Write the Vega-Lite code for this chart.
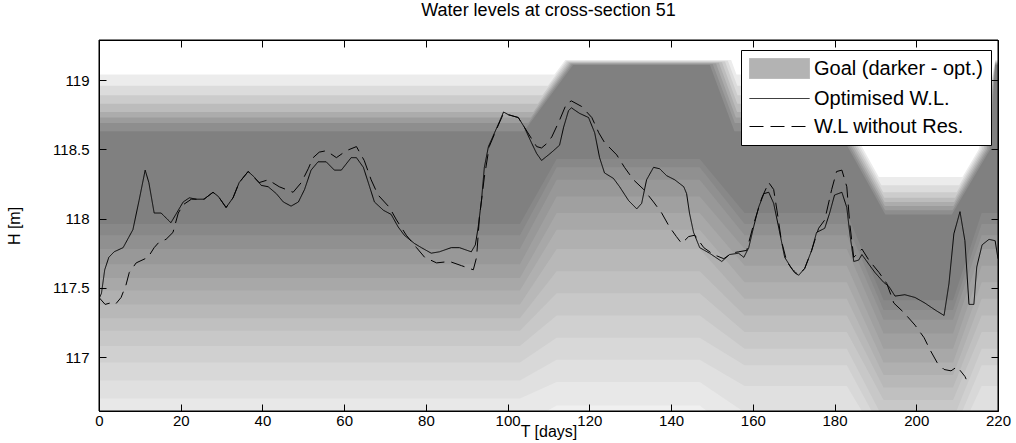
{
"$schema": "https://vega.github.io/schema/vega-lite/v6.json",
"width": 899, "height": 371,
"autosize": {"type": "none"},
"padding": {"left": 99, "top": 40, "right": 18, "bottom": 32},
"background": "white",
"title": {"text": "Water levels at cross-section 51", "fontSize": 18, "font": "Liberation Sans", "fontWeight": "normal", "color": "black", "offset": 20, "anchor": "middle"},
"datasets": {
"goal": [
{"side":"up","band":"u8","t":0,"h":118.63},{"side":"up","band":"u8","t":104,"h":118.63},{"side":"up","band":"u8","t":116,"h":119.11},{"side":"up","band":"u8","t":149.5,"h":119.11},{"side":"up","band":"u8","t":155.5,"h":118.63},{"side":"up","band":"u8","t":181.11,"h":118.63},{"side":"up","band":"u8","t":192.43,"h":118.03},{"side":"up","band":"u8","t":208.7,"h":118.03},{"side":"up","band":"u8","t":218.1,"h":118.5},{"side":"up","band":"u8","t":219.3,"h":119.11},{"side":"up","band":"u8","t":220,"h":119.11},
{"side":"up","band":"u7","t":0,"h":118.69},{"side":"up","band":"u7","t":105.1,"h":118.69},{"side":"up","band":"u7","t":115.7,"h":119.115},{"side":"up","band":"u7","t":150.2,"h":119.115},{"side":"up","band":"u7","t":155.6,"h":118.69},{"side":"up","band":"u7","t":180.48,"h":118.69},{"side":"up","band":"u7","t":192.36,"h":118.06},{"side":"up","band":"u7","t":208.9,"h":118.06},{"side":"up","band":"u7","t":217.7,"h":118.5},{"side":"up","band":"u7","t":219.3,"h":119.115},{"side":"up","band":"u7","t":220,"h":119.115},
{"side":"up","band":"u6","t":0,"h":118.73},{"side":"up","band":"u6","t":105.7,"h":118.73},{"side":"up","band":"u6","t":115.45,"h":119.12},{"side":"up","band":"u6","t":151,"h":119.12},{"side":"up","band":"u6","t":155.85,"h":118.73},{"side":"up","band":"u6","t":180.22,"h":118.73},{"side":"up","band":"u6","t":192.3,"h":118.09},{"side":"up","band":"u6","t":209.1,"h":118.09},{"side":"up","band":"u6","t":217.3,"h":118.5},{"side":"up","band":"u6","t":219.3,"h":119.12},{"side":"up","band":"u6","t":220,"h":119.12},
{"side":"up","band":"u5","t":0,"h":118.77},{"side":"up","band":"u5","t":106.3,"h":118.77},{"side":"up","band":"u5","t":115.2,"h":119.125},{"side":"up","band":"u5","t":151.7,"h":119.125},{"side":"up","band":"u5","t":156.15,"h":118.77},{"side":"up","band":"u5","t":179.97,"h":118.77},{"side":"up","band":"u5","t":192.23,"h":118.12},{"side":"up","band":"u5","t":209.3,"h":118.12},{"side":"up","band":"u5","t":216.9,"h":118.5},{"side":"up","band":"u5","t":219.3,"h":119.125},{"side":"up","band":"u5","t":220,"h":119.125},
{"side":"up","band":"u4","t":0,"h":118.83},{"side":"up","band":"u4","t":107.4,"h":118.83},{"side":"up","band":"u4","t":114.9,"h":119.13},{"side":"up","band":"u4","t":152.45,"h":119.13},{"side":"up","band":"u4","t":156.2,"h":118.83},{"side":"up","band":"u4","t":179.33,"h":118.83},{"side":"up","band":"u4","t":192.17,"h":118.15},{"side":"up","band":"u4","t":209.5,"h":118.15},{"side":"up","band":"u4","t":216.5,"h":118.5},{"side":"up","band":"u4","t":219.3,"h":119.13},{"side":"up","band":"u4","t":220,"h":119.13},
{"side":"up","band":"u3","t":0,"h":118.89},{"side":"up","band":"u3","t":108.5,"h":118.89},{"side":"up","band":"u3","t":114.6,"h":119.135},{"side":"up","band":"u3","t":153.2,"h":119.135},{"side":"up","band":"u3","t":156.25,"h":118.89},{"side":"up","band":"u3","t":178.7,"h":118.89},{"side":"up","band":"u3","t":191.91,"h":118.19},{"side":"up","band":"u3","t":209.9,"h":118.19},{"side":"up","band":"u3","t":216.1,"h":118.5},{"side":"up","band":"u3","t":219.3,"h":119.135},{"side":"up","band":"u3","t":220,"h":119.135},
{"side":"up","band":"u2","t":0,"h":118.96},{"side":"up","band":"u2","t":109.85,"h":118.96},{"side":"up","band":"u2","t":114.35,"h":119.14},{"side":"up","band":"u2","t":153.9,"h":119.14},{"side":"up","band":"u2","t":156.2,"h":118.96},{"side":"up","band":"u2","t":177.88,"h":118.96},{"side":"up","band":"u2","t":191.47,"h":118.24},{"side":"up","band":"u2","t":210.5,"h":118.24},{"side":"up","band":"u2","t":215.7,"h":118.5},{"side":"up","band":"u2","t":219.3,"h":119.14},{"side":"up","band":"u2","t":220,"h":119.14},
{"side":"up","band":"u1","t":0,"h":119.04},{"side":"up","band":"u1","t":111.45,"h":119.04},{"side":"up","band":"u1","t":114.1,"h":119.145},{"side":"up","band":"u1","t":154.7,"h":119.145},{"side":"up","band":"u1","t":156,"h":119.04},{"side":"up","band":"u1","t":176.87,"h":119.04},{"side":"up","band":"u1","t":190.83,"h":118.3},{"side":"up","band":"u1","t":211.3,"h":118.3},{"side":"up","band":"u1","t":215.3,"h":118.5},{"side":"up","band":"u1","t":219.3,"h":119.145},{"side":"up","band":"u1","t":220,"h":119.145},
{"side":"lo","band":"l1","t":0,"h":117.96},{"side":"lo","band":"l1","t":103,"h":117.96},{"side":"lo","band":"l1","t":112,"h":118.43},{"side":"lo","band":"l1","t":147,"h":118.43},{"side":"lo","band":"l1","t":158,"h":118.04},{"side":"lo","band":"l1","t":183,"h":118.04},{"side":"lo","band":"l1","t":192,"h":117.41},{"side":"lo","band":"l1","t":209,"h":117.41},{"side":"lo","band":"l1","t":216,"h":118.04},{"side":"lo","band":"l1","t":220,"h":118.04},
{"side":"lo","band":"l2","t":0,"h":117.88},{"side":"lo","band":"l2","t":103,"h":117.88},{"side":"lo","band":"l2","t":112,"h":118.37},{"side":"lo","band":"l2","t":147,"h":118.37},{"side":"lo","band":"l2","t":158,"h":117.96},{"side":"lo","band":"l2","t":183,"h":117.96},{"side":"lo","band":"l2","t":192,"h":117.34},{"side":"lo","band":"l2","t":209,"h":117.34},{"side":"lo","band":"l2","t":216,"h":117.96},{"side":"lo","band":"l2","t":220,"h":117.96},
{"side":"lo","band":"l3","t":0,"h":117.78},{"side":"lo","band":"l3","t":103,"h":117.78},{"side":"lo","band":"l3","t":112,"h":118.28},{"side":"lo","band":"l3","t":147,"h":118.28},{"side":"lo","band":"l3","t":158,"h":117.88},{"side":"lo","band":"l3","t":183,"h":117.88},{"side":"lo","band":"l3","t":192,"h":117.27},{"side":"lo","band":"l3","t":209,"h":117.27},{"side":"lo","band":"l3","t":216,"h":117.88},{"side":"lo","band":"l3","t":220,"h":117.88},
{"side":"lo","band":"l4","t":0,"h":117.67},{"side":"lo","band":"l4","t":103,"h":117.67},{"side":"lo","band":"l4","t":112,"h":118.16},{"side":"lo","band":"l4","t":147,"h":118.16},{"side":"lo","band":"l4","t":158,"h":117.78},{"side":"lo","band":"l4","t":183,"h":117.78},{"side":"lo","band":"l4","t":192,"h":117.17},{"side":"lo","band":"l4","t":209,"h":117.17},{"side":"lo","band":"l4","t":216,"h":117.78},{"side":"lo","band":"l4","t":220,"h":117.78},
{"side":"lo","band":"l5","t":0,"h":117.57},{"side":"lo","band":"l5","t":103,"h":117.57},{"side":"lo","band":"l5","t":112,"h":118.04},{"side":"lo","band":"l5","t":147,"h":118.04},{"side":"lo","band":"l5","t":158,"h":117.66},{"side":"lo","band":"l5","t":183,"h":117.66},{"side":"lo","band":"l5","t":192,"h":117.06},{"side":"lo","band":"l5","t":209,"h":117.06},{"side":"lo","band":"l5","t":216,"h":117.66},{"side":"lo","band":"l5","t":220,"h":117.66},
{"side":"lo","band":"l6","t":0,"h":117.48},{"side":"lo","band":"l6","t":103,"h":117.48},{"side":"lo","band":"l6","t":112,"h":117.92},{"side":"lo","band":"l6","t":147,"h":117.92},{"side":"lo","band":"l6","t":158,"h":117.54},{"side":"lo","band":"l6","t":183,"h":117.54},{"side":"lo","band":"l6","t":192,"h":116.96},{"side":"lo","band":"l6","t":209,"h":116.96},{"side":"lo","band":"l6","t":216,"h":117.54},{"side":"lo","band":"l6","t":220,"h":117.54},
{"side":"lo","band":"l7","t":0,"h":117.38},{"side":"lo","band":"l7","t":103,"h":117.38},{"side":"lo","band":"l7","t":112,"h":117.78},{"side":"lo","band":"l7","t":147,"h":117.78},{"side":"lo","band":"l7","t":158,"h":117.42},{"side":"lo","band":"l7","t":183,"h":117.42},{"side":"lo","band":"l7","t":192,"h":116.87},{"side":"lo","band":"l7","t":209,"h":116.87},{"side":"lo","band":"l7","t":216,"h":117.42},{"side":"lo","band":"l7","t":220,"h":117.42},
{"side":"lo","band":"l8","t":0,"h":117.28},{"side":"lo","band":"l8","t":103,"h":117.28},{"side":"lo","band":"l8","t":112,"h":117.62},{"side":"lo","band":"l8","t":147,"h":117.62},{"side":"lo","band":"l8","t":158,"h":117.3},{"side":"lo","band":"l8","t":183,"h":117.3},{"side":"lo","band":"l8","t":192,"h":116.78},{"side":"lo","band":"l8","t":209,"h":116.78},{"side":"lo","band":"l8","t":216,"h":117.3},{"side":"lo","band":"l8","t":220,"h":117.3},
{"side":"lo","band":"l9","t":0,"h":117.19},{"side":"lo","band":"l9","t":103,"h":117.19},{"side":"lo","band":"l9","t":112,"h":117.46},{"side":"lo","band":"l9","t":147,"h":117.46},{"side":"lo","band":"l9","t":158,"h":117.18},{"side":"lo","band":"l9","t":183,"h":117.18},{"side":"lo","band":"l9","t":192,"h":116.69},{"side":"lo","band":"l9","t":209,"h":116.69},{"side":"lo","band":"l9","t":216,"h":117.18},{"side":"lo","band":"l9","t":220,"h":117.18},
{"side":"lo","band":"l10","t":0,"h":117.08},{"side":"lo","band":"l10","t":103,"h":117.08},{"side":"lo","band":"l10","t":112,"h":117.3},{"side":"lo","band":"l10","t":147,"h":117.3},{"side":"lo","band":"l10","t":158,"h":117.06},{"side":"lo","band":"l10","t":183,"h":117.06},{"side":"lo","band":"l10","t":192,"h":116.55},{"side":"lo","band":"l10","t":209,"h":116.55},{"side":"lo","band":"l10","t":216,"h":117.06},{"side":"lo","band":"l10","t":220,"h":117.06},
{"side":"lo","band":"l11","t":0,"h":116.96},{"side":"lo","band":"l11","t":103,"h":116.96},{"side":"lo","band":"l11","t":112,"h":117.14},{"side":"lo","band":"l11","t":147,"h":117.14},{"side":"lo","band":"l11","t":158,"h":116.94},{"side":"lo","band":"l11","t":183,"h":116.94},{"side":"lo","band":"l11","t":192,"h":116.45},{"side":"lo","band":"l11","t":209,"h":116.45},{"side":"lo","band":"l11","t":216,"h":116.94},{"side":"lo","band":"l11","t":220,"h":116.94},
{"side":"lo","band":"l12","t":0,"h":116.83},{"side":"lo","band":"l12","t":103,"h":116.83},{"side":"lo","band":"l12","t":112,"h":116.98},{"side":"lo","band":"l12","t":147,"h":116.98},{"side":"lo","band":"l12","t":158,"h":116.79},{"side":"lo","band":"l12","t":183,"h":116.79},{"side":"lo","band":"l12","t":192,"h":116.35},{"side":"lo","band":"l12","t":209,"h":116.35},{"side":"lo","band":"l12","t":216,"h":116.79},{"side":"lo","band":"l12","t":220,"h":116.79},
{"side":"lo","band":"l13","t":0,"h":116.7},{"side":"lo","band":"l13","t":103,"h":116.7},{"side":"lo","band":"l13","t":112,"h":116.82},{"side":"lo","band":"l13","t":147,"h":116.82},{"side":"lo","band":"l13","t":158,"h":116.6},{"side":"lo","band":"l13","t":183,"h":116.6},{"side":"lo","band":"l13","t":192,"h":116.25},{"side":"lo","band":"l13","t":209,"h":116.25},{"side":"lo","band":"l13","t":216,"h":116.6},{"side":"lo","band":"l13","t":220,"h":116.6},
{"side":"lo","band":"l14","t":0,"h":116.5},{"side":"lo","band":"l14","t":103,"h":116.5},{"side":"lo","band":"l14","t":112,"h":116.65},{"side":"lo","band":"l14","t":147,"h":116.65},{"side":"lo","band":"l14","t":158,"h":116.4},{"side":"lo","band":"l14","t":183,"h":116.4},{"side":"lo","band":"l14","t":192,"h":116.1},{"side":"lo","band":"l14","t":209,"h":116.1},{"side":"lo","band":"l14","t":216,"h":116.4},{"side":"lo","band":"l14","t":220,"h":116.4}
],
"wl": [
{"series":"Optimised W.L.","t":0,"h":117.42},{"series":"Optimised W.L.","t":0.6,"h":117.46},{"series":"Optimised W.L.","t":1.4,"h":117.63},{"series":"Optimised W.L.","t":2.4,"h":117.72},{"series":"Optimised W.L.","t":3.7,"h":117.76},{"series":"Optimised W.L.","t":5.9,"h":117.79},{"series":"Optimised W.L.","t":8.3,"h":117.92},{"series":"Optimised W.L.","t":9.8,"h":118.13},{"series":"Optimised W.L.","t":11.3,"h":118.35},{"series":"Optimised W.L.","t":12.2,"h":118.26},{"series":"Optimised W.L.","t":13.5,"h":118.04},{"series":"Optimised W.L.","t":15.2,"h":118.04},{"series":"Optimised W.L.","t":17.6,"h":117.97},{"series":"Optimised W.L.","t":19.4,"h":118.06},{"series":"Optimised W.L.","t":20.6,"h":118.12},{"series":"Optimised W.L.","t":22.1,"h":118.15},{"series":"Optimised W.L.","t":23.8,"h":118.14},{"series":"Optimised W.L.","t":25.7,"h":118.14},{"series":"Optimised W.L.","t":27.9,"h":118.19},{"series":"Optimised W.L.","t":29.2,"h":118.16},{"series":"Optimised W.L.","t":31.1,"h":118.08},{"series":"Optimised W.L.","t":32.8,"h":118.15},{"series":"Optimised W.L.","t":34.3,"h":118.26},{"series":"Optimised W.L.","t":36.5,"h":118.34},{"series":"Optimised W.L.","t":38,"h":118.3},{"series":"Optimised W.L.","t":39.7,"h":118.24},{"series":"Optimised W.L.","t":41.4,"h":118.23},{"series":"Optimised W.L.","t":43.4,"h":118.18},{"series":"Optimised W.L.","t":45.1,"h":118.12},{"series":"Optimised W.L.","t":47,"h":118.09},{"series":"Optimised W.L.","t":48.8,"h":118.12},{"series":"Optimised W.L.","t":50.3,"h":118.21},{"series":"Optimised W.L.","t":51.9,"h":118.35},{"series":"Optimised W.L.","t":53.6,"h":118.41},{"series":"Optimised W.L.","t":55.6,"h":118.41},{"series":"Optimised W.L.","t":57.6,"h":118.35},{"series":"Optimised W.L.","t":59.3,"h":118.35},{"series":"Optimised W.L.","t":61.7,"h":118.44},{"series":"Optimised W.L.","t":63,"h":118.44},{"series":"Optimised W.L.","t":64.7,"h":118.37},{"series":"Optimised W.L.","t":65.9,"h":118.26},{"series":"Optimised W.L.","t":67.4,"h":118.12},{"series":"Optimised W.L.","t":69.6,"h":118.06},{"series":"Optimised W.L.","t":71.5,"h":118.03},{"series":"Optimised W.L.","t":73.2,"h":117.94},{"series":"Optimised W.L.","t":74.7,"h":117.88},{"series":"Optimised W.L.","t":77.2,"h":117.82},{"series":"Optimised W.L.","t":78.9,"h":117.79},{"series":"Optimised W.L.","t":81.3,"h":117.75},{"series":"Optimised W.L.","t":83.3,"h":117.76},{"series":"Optimised W.L.","t":86.2,"h":117.79},{"series":"Optimised W.L.","t":88.2,"h":117.79},{"series":"Optimised W.L.","t":91.1,"h":117.76},{"series":"Optimised W.L.","t":92.1,"h":117.81},{"series":"Optimised W.L.","t":92.8,"h":117.94},{"series":"Optimised W.L.","t":93.6,"h":118.13},{"series":"Optimised W.L.","t":94.3,"h":118.37},{"series":"Optimised W.L.","t":95.3,"h":118.52},{"series":"Optimised W.L.","t":96.8,"h":118.62},{"series":"Optimised W.L.","t":97.7,"h":118.68},{"series":"Optimised W.L.","t":99,"h":118.77},{"series":"Optimised W.L.","t":100.2,"h":118.75},{"series":"Optimised W.L.","t":102.6,"h":118.73},{"series":"Optimised W.L.","t":104.1,"h":118.66},{"series":"Optimised W.L.","t":105.8,"h":118.55},{"series":"Optimised W.L.","t":107.1,"h":118.47},{"series":"Optimised W.L.","t":108.3,"h":118.42},{"series":"Optimised W.L.","t":110,"h":118.46},{"series":"Optimised W.L.","t":111.2,"h":118.49},{"series":"Optimised W.L.","t":112.7,"h":118.53},{"series":"Optimised W.L.","t":113.7,"h":118.66},{"series":"Optimised W.L.","t":114.9,"h":118.78},{"series":"Optimised W.L.","t":115.6,"h":118.8},{"series":"Optimised W.L.","t":117.6,"h":118.76},{"series":"Optimised W.L.","t":119.8,"h":118.73},{"series":"Optimised W.L.","t":121.3,"h":118.62},{"series":"Optimised W.L.","t":122.5,"h":118.44},{"series":"Optimised W.L.","t":123.7,"h":118.33},{"series":"Optimised W.L.","t":125.9,"h":118.29},{"series":"Optimised W.L.","t":127.4,"h":118.23},{"series":"Optimised W.L.","t":129.6,"h":118.13},{"series":"Optimised W.L.","t":131.6,"h":118.07},{"series":"Optimised W.L.","t":132.8,"h":118.11},{"series":"Optimised W.L.","t":134,"h":118.28},{"series":"Optimised W.L.","t":135.7,"h":118.37},{"series":"Optimised W.L.","t":137.2,"h":118.36},{"series":"Optimised W.L.","t":138.9,"h":118.31},{"series":"Optimised W.L.","t":140.9,"h":118.28},{"series":"Optimised W.L.","t":143.1,"h":118.23},{"series":"Optimised W.L.","t":143.8,"h":118.18},{"series":"Optimised W.L.","t":144.5,"h":118.04},{"series":"Optimised W.L.","t":145.5,"h":117.9},{"series":"Optimised W.L.","t":147,"h":117.79},{"series":"Optimised W.L.","t":149.4,"h":117.75},{"series":"Optimised W.L.","t":152.4,"h":117.69},{"series":"Optimised W.L.","t":154.3,"h":117.74},{"series":"Optimised W.L.","t":156.5,"h":117.75},{"series":"Optimised W.L.","t":157.8,"h":117.72},{"series":"Optimised W.L.","t":159,"h":117.79},{"series":"Optimised W.L.","t":160.2,"h":117.94},{"series":"Optimised W.L.","t":161.4,"h":118.08},{"series":"Optimised W.L.","t":162.7,"h":118.18},{"series":"Optimised W.L.","t":163.9,"h":118.19},{"series":"Optimised W.L.","t":165.1,"h":118.11},{"series":"Optimised W.L.","t":166.3,"h":117.94},{"series":"Optimised W.L.","t":167.8,"h":117.72},{"series":"Optimised W.L.","t":169.5,"h":117.64},{"series":"Optimised W.L.","t":171.2,"h":117.59},{"series":"Optimised W.L.","t":172.7,"h":117.64},{"series":"Optimised W.L.","t":174.4,"h":117.77},{"series":"Optimised W.L.","t":175.6,"h":117.9},{"series":"Optimised W.L.","t":177.6,"h":117.93},{"series":"Optimised W.L.","t":178.8,"h":118.04},{"series":"Optimised W.L.","t":180,"h":118.17},{"series":"Optimised W.L.","t":181.8,"h":118.19},{"series":"Optimised W.L.","t":183,"h":118.08},{"series":"Optimised W.L.","t":183.7,"h":117.9},{"series":"Optimised W.L.","t":184.7,"h":117.69},{"series":"Optimised W.L.","t":185.9,"h":117.7},{"series":"Optimised W.L.","t":186.7,"h":117.74},{"series":"Optimised W.L.","t":188.4,"h":117.67},{"series":"Optimised W.L.","t":189.9,"h":117.61},{"series":"Optimised W.L.","t":192,"h":117.54},{"series":"Optimised W.L.","t":193.3,"h":117.51},{"series":"Optimised W.L.","t":194.8,"h":117.44},{"series":"Optimised W.L.","t":197.2,"h":117.45},{"series":"Optimised W.L.","t":199.7,"h":117.43},{"series":"Optimised W.L.","t":202.1,"h":117.39},{"series":"Optimised W.L.","t":204.6,"h":117.34},{"series":"Optimised W.L.","t":206.8,"h":117.3},{"series":"Optimised W.L.","t":208,"h":117.53},{"series":"Optimised W.L.","t":209.2,"h":117.89},{"series":"Optimised W.L.","t":210.7,"h":118.05},{"series":"Optimised W.L.","t":211.9,"h":117.84},{"series":"Optimised W.L.","t":212.9,"h":117.38},{"series":"Optimised W.L.","t":214.1,"h":117.38},{"series":"Optimised W.L.","t":214.8,"h":117.65},{"series":"Optimised W.L.","t":216.1,"h":117.81},{"series":"Optimised W.L.","t":217.8,"h":117.85},{"series":"Optimised W.L.","t":219.3,"h":117.84},{"series":"Optimised W.L.","t":220,"h":117.71},
{"series":"W.L without Res.","t":0,"h":117.43},{"series":"W.L without Res.","t":1.5,"h":117.38},{"series":"W.L without Res.","t":2.7,"h":117.39},{"series":"W.L without Res.","t":4,"h":117.38},{"series":"W.L without Res.","t":5.4,"h":117.43},{"series":"W.L without Res.","t":6.6,"h":117.52},{"series":"W.L without Res.","t":7.4,"h":117.61},{"series":"W.L without Res.","t":9.1,"h":117.68},{"series":"W.L without Res.","t":12,"h":117.72},{"series":"W.L without Res.","t":13.5,"h":117.79},{"series":"W.L without Res.","t":14.7,"h":117.83},{"series":"W.L without Res.","t":16.4,"h":117.85},{"series":"W.L without Res.","t":18.1,"h":117.9},{"series":"W.L without Res.","t":19.4,"h":118.04},{"series":"W.L without Res.","t":20.6,"h":118.1},{"series":"W.L without Res.","t":22.6,"h":118.14},{"series":"W.L without Res.","t":23.8,"h":118.14},{"series":"W.L without Res.","t":25.7,"h":118.14},{"series":"W.L without Res.","t":27.9,"h":118.19},{"series":"W.L without Res.","t":29.2,"h":118.16},{"series":"W.L without Res.","t":31.1,"h":118.08},{"series":"W.L without Res.","t":32.8,"h":118.15},{"series":"W.L without Res.","t":34.3,"h":118.26},{"series":"W.L without Res.","t":36.5,"h":118.34},{"series":"W.L without Res.","t":39.2,"h":118.26},{"series":"W.L without Res.","t":41.4,"h":118.28},{"series":"W.L without Res.","t":44.1,"h":118.23},{"series":"W.L without Res.","t":47.5,"h":118.19},{"series":"W.L without Res.","t":49.5,"h":118.26},{"series":"W.L without Res.","t":51.2,"h":118.36},{"series":"W.L without Res.","t":52.4,"h":118.44},{"series":"W.L without Res.","t":53.9,"h":118.48},{"series":"W.L without Res.","t":55.6,"h":118.49},{"series":"W.L without Res.","t":58.1,"h":118.44},{"series":"W.L without Res.","t":60.5,"h":118.49},{"series":"W.L without Res.","t":63,"h":118.52},{"series":"W.L without Res.","t":64.9,"h":118.42},{"series":"W.L without Res.","t":66.6,"h":118.28},{"series":"W.L without Res.","t":68.3,"h":118.17},{"series":"W.L without Res.","t":71.1,"h":118.08},{"series":"W.L without Res.","t":72.8,"h":117.99},{"series":"W.L without Res.","t":75.2,"h":117.88},{"series":"W.L without Res.","t":77.7,"h":117.79},{"series":"W.L without Res.","t":79.7,"h":117.72},{"series":"W.L without Res.","t":82.6,"h":117.68},{"series":"W.L without Res.","t":85.8,"h":117.69},{"series":"W.L without Res.","t":88.7,"h":117.66},{"series":"W.L without Res.","t":91.6,"h":117.63},{"series":"W.L without Res.","t":92.4,"h":117.72},{"series":"W.L without Res.","t":93.1,"h":118.01},{"series":"W.L without Res.","t":94.3,"h":118.3},{"series":"W.L without Res.","t":95.5,"h":118.52},{"series":"W.L without Res.","t":97.2,"h":118.64},{"series":"W.L without Res.","t":99,"h":118.76},{"series":"W.L without Res.","t":100.2,"h":118.75},{"series":"W.L without Res.","t":102.6,"h":118.73},{"series":"W.L without Res.","t":104.1,"h":118.66},{"series":"W.L without Res.","t":105.8,"h":118.58},{"series":"W.L without Res.","t":107.1,"h":118.52},{"series":"W.L without Res.","t":108.3,"h":118.51},{"series":"W.L without Res.","t":109.5,"h":118.54},{"series":"W.L without Res.","t":110.8,"h":118.59},{"series":"W.L without Res.","t":112.7,"h":118.71},{"series":"W.L without Res.","t":114.4,"h":118.83},{"series":"W.L without Res.","t":115.6,"h":118.85},{"series":"W.L without Res.","t":118.1,"h":118.81},{"series":"W.L without Res.","t":120.6,"h":118.73},{"series":"W.L without Res.","t":122.3,"h":118.62},{"series":"W.L without Res.","t":123.7,"h":118.55},{"series":"W.L without Res.","t":126.7,"h":118.46},{"series":"W.L without Res.","t":128.6,"h":118.37},{"series":"W.L without Res.","t":130.8,"h":118.28},{"series":"W.L without Res.","t":133.3,"h":118.21},{"series":"W.L without Res.","t":135.7,"h":118.12},{"series":"W.L without Res.","t":137.7,"h":118.04},{"series":"W.L without Res.","t":139.6,"h":117.94},{"series":"W.L without Res.","t":141.3,"h":117.87},{"series":"W.L without Res.","t":142.6,"h":117.82},{"series":"W.L without Res.","t":144.3,"h":117.87},{"series":"W.L without Res.","t":145.8,"h":117.88},{"series":"W.L without Res.","t":148,"h":117.79},{"series":"W.L without Res.","t":150.4,"h":117.74},{"series":"W.L without Res.","t":152.9,"h":117.71},{"series":"W.L without Res.","t":154.8,"h":117.75},{"series":"W.L without Res.","t":156.5,"h":117.76},{"series":"W.L without Res.","t":158.5,"h":117.77},{"series":"W.L without Res.","t":160.2,"h":117.96},{"series":"W.L without Res.","t":162.2,"h":118.15},{"series":"W.L without Res.","t":163.9,"h":118.26},{"series":"W.L without Res.","t":165.1,"h":118.21},{"series":"W.L without Res.","t":165.9,"h":118.06},{"series":"W.L without Res.","t":167,"h":117.84},{"series":"W.L without Res.","t":168.3,"h":117.69},{"series":"W.L without Res.","t":170.2,"h":117.61},{"series":"W.L without Res.","t":171.2,"h":117.59},{"series":"W.L without Res.","t":172.7,"h":117.64},{"series":"W.L without Res.","t":174.4,"h":117.77},{"series":"W.L without Res.","t":176.1,"h":117.93},{"series":"W.L without Res.","t":177.6,"h":117.99},{"series":"W.L without Res.","t":179.3,"h":118.21},{"series":"W.L without Res.","t":180.5,"h":118.34},{"series":"W.L without Res.","t":181.8,"h":118.35},{"series":"W.L without Res.","t":183,"h":118.23},{"series":"W.L without Res.","t":183.7,"h":117.97},{"series":"W.L without Res.","t":184.7,"h":117.72},{"series":"W.L without Res.","t":186.7,"h":117.78},{"series":"W.L without Res.","t":188.4,"h":117.7},{"series":"W.L without Res.","t":190.9,"h":117.61},{"series":"W.L without Res.","t":192.8,"h":117.53},{"series":"W.L without Res.","t":194.5,"h":117.39},{"series":"W.L without Res.","t":197,"h":117.32},{"series":"W.L without Res.","t":199.7,"h":117.23},{"series":"W.L without Res.","t":201.9,"h":117.14},{"series":"W.L without Res.","t":203.4,"h":117.05},{"series":"W.L without Res.","t":205.1,"h":116.96},{"series":"W.L without Res.","t":206.8,"h":116.91},{"series":"W.L without Res.","t":208.5,"h":116.9},{"series":"W.L without Res.","t":210,"h":116.93},{"series":"W.L without Res.","t":211.9,"h":116.86},{"series":"W.L without Res.","t":212.2,"h":116.84}
]
},
"layer": [
{
"data": {"name": "goal"},
"transform": [{"filter": "datum.side === 'up'"}],
"mark": {"type": "area", "clip": true, "interpolate": "linear"},
"encoding": {
"x": {"field": "t", "type": "quantitative", "scale": {"domain": [0, 220], "nice": false, "zero": false},
 "axis": {"orient": "bottom", "values": [0,20,40,60,80,100,120,140,160,180,200,220], "title": "T [days]", "tickSize": -7, "labelPadding": 9, "titlePadding": -5, "labelFlush": false, "zindex": 2}},
"y": {"field": "h", "type": "quantitative", "scale": {"domain": [116.61, 119.29], "nice": false, "zero": false},
 "axis": {"orient": "left", "values": [117, 117.5, 118, 118.5, 119], "format": "~g", "title": "H [m]", "tickSize": -7, "labelPadding": 17, "titlePadding": 30, "zindex": 2}},
"y2": {"datum": 119.6},
"color": {"field": "band", "type": "nominal", "legend": null,
 "scale": {"domain": ["u8","u7","u6","u5","u4","u3","u2","u1","l1","l2","l3","l4","l5","l6","l7","l8","l9","l10","l11","l12","l13","l14"],
  "range": ["#8e8e8e","#9c9c9c","#acacac","#bcbcbc","#cccccc","#dcdcdc","#ececec","#ffffff","#888888","#909090","#989898","#a0a0a0","#a8a8a8","#b0b0b0","#b8b8b8","#c0c0c0","#c8c8c8","#d0d0d0","#d8d8d8","#e0e0e0","#e8e8e8","#f0f0f0"]}}
}
},
{
"data": {"name": "goal"},
"transform": [{"filter": "datum.side === 'lo'"}],
"mark": {"type": "area", "clip": true, "interpolate": "linear"},
"encoding": {
"x": {"field": "t", "type": "quantitative", "axis": null},
"y": {"field": "h", "type": "quantitative", "axis": null},
"y2": {"datum": 116.0},
"color": {"field": "band", "type": "nominal", "legend": null}
}
},
{
"data": {"name": "wl"},
"mark": {"type": "line", "clip": true, "strokeWidth": 1, "interpolate": "linear"},
"encoding": {
"x": {"field": "t", "type": "quantitative", "axis": {"orient": "top", "values": [0,20,40,60,80,100,120,140,160,180,200,220], "labels": false, "title": null, "tickSize": -7, "zindex": 2}},
"y": {"field": "h", "type": "quantitative", "axis": {"orient": "right", "values": [117, 117.5, 118, 118.5, 119], "labels": false, "title": null, "tickSize": -7, "zindex": 2}},
"stroke": {"field": "series", "type": "nominal",
 "scale": {"domain": ["Goal (darker - opt.)", "Optimised W.L.", "W.L without Res."], "range": ["#b3b3b3", "#000000", "#000000"]},
 "legend": {"title": null, "orient": "none", "legendX": 642, "legendY": 10, "fillColor": "white", "strokeColor": "black", "padding": 8, "zindex": 3,
  "labelFontSize": 20, "labelFont": "Liberation Sans", "labelColor": "black", "labelOffset": 44, "labelLimit": 400,
  "symbolSize": 400, "symbolType": "M-1,0H5", "symbolStrokeWidth": 1, "rowPadding": 7,
  "encode": {"symbols": {"update": {
   "shape": {"signal": "datum.index === 0 ? 'M-1,-1H5V1H-1Z' : 'M-1,0H5'"},
   "fill": {"signal": "datum.index === 0 ? '#b3b3b3' : 'transparent'"},
   "strokeDash": {"signal": "datum.index === 2 ? [14, 7] : [1, 0]"}
  }}}}},
"strokeDash": {"field": "series", "type": "nominal", "legend": null,
 "scale": {"domain": ["Goal (darker - opt.)", "Optimised W.L.", "W.L without Res."], "range": [[1, 0], [1, 0], [14, 7]]}}
}
},
{
"data": {"values": [{"frame": "plot"}]},
"mark": {"type": "rect", "filled": false, "stroke": "black", "strokeWidth": 1},
"encoding": {
"x": {"datum": 0, "type": "quantitative", "axis": null},
"x2": {"datum": 220},
"y": {"datum": 116.61, "type": "quantitative", "axis": null},
"y2": {"datum": 119.29}
}
}
],
"resolve": {"axis": {"x": "independent", "y": "independent"}},
"config": {
"view": {"stroke": null, "fill": "#808080"},
"axis": {"grid": false, "domainColor": "black", "tickColor": "black", "labelColor": "black", "titleColor": "black",
 "labelFont": "Liberation Sans", "titleFont": "Liberation Sans", "labelFontSize": 15, "titleFontSize": 16, "titleFontWeight": "normal"}
}
}
